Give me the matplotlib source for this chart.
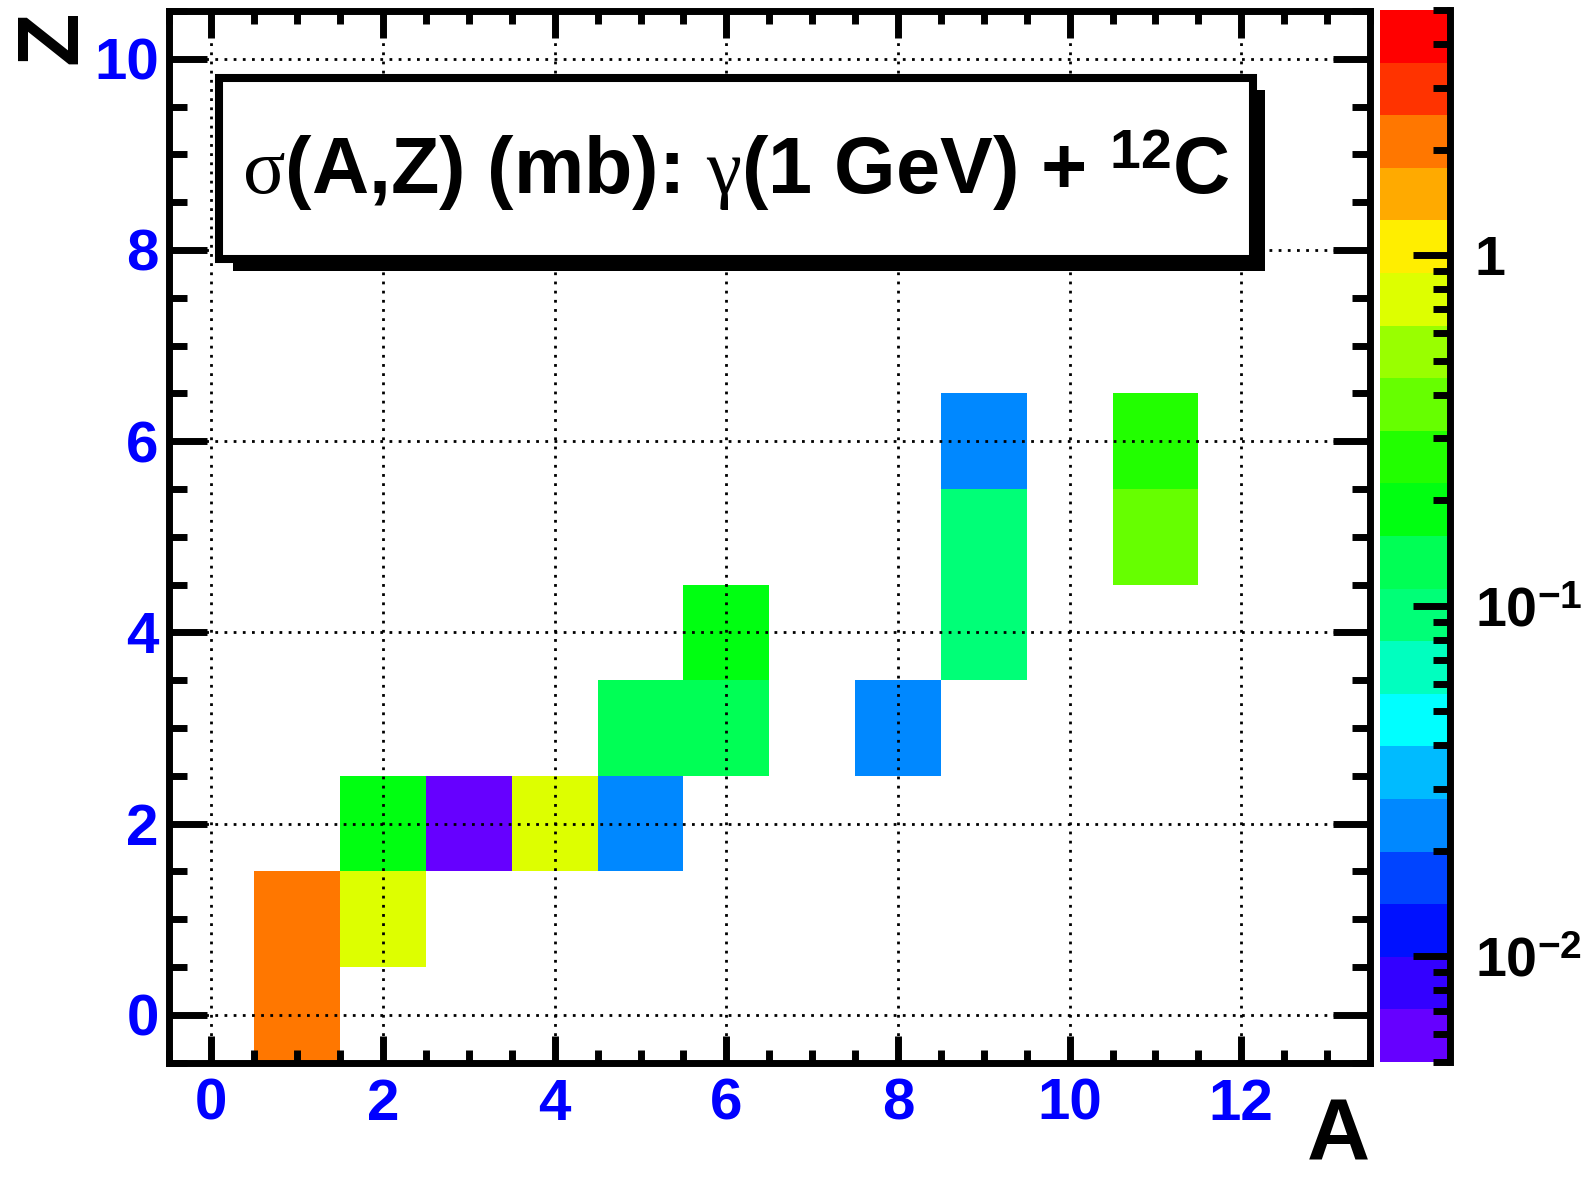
import numpy as np
import matplotlib
matplotlib.use('Agg')
import matplotlib.pyplot as plt
from matplotlib import font_manager
from matplotlib.colors import ListedColormap, LogNorm
from matplotlib.patches import Rectangle
from matplotlib.ticker import MultipleLocator

# fragment mass number A, charge Z and cross section (mb)
mass_a = [1, 1, 2, 2, 3, 4, 5, 5, 6, 6, 8, 9, 9, 9, 11, 11]
charge_z = [0, 1, 1, 2, 2, 2, 2, 3, 3, 4, 3, 4, 5, 6, 5, 6]
sigma_mb = [2.2, 1.9, 0.75, 0.19, 0.006, 0.72, 0.024, 0.135,
            0.13, 0.19, 0.023, 0.095, 0.092, 0.025, 0.38, 0.27]

# ROOT style rainbow palette, 20 contours (bottom -> top)
palette = ['#6600ff', '#3300ff', '#0011ff', '#0044ff', '#0088ff',
           '#00bbff', '#00ffff', '#00ffbf', '#00ff77', '#00ff55',
           '#00ff11', '#22ff00', '#66ff00', '#99ff00', '#ddff00',
           '#ffee00', '#ffaa00', '#ff7700', '#ff3300', '#ff0000']
z_min, z_max = 0.005, 5.0

a_ticks = [0, 2, 4, 6, 8, 10, 12]
z_ticks = [0, 2, 4, 6, 8, 10]
cbar_ticks = [0.01, 0.1, 1]
cbar_labels = ['10$^{-2}$', '10$^{-1}$', '1']
title = r'$\sigma$(A,Z) (mb): $\gamma$(1 GeV) + $^{12}$C'

names = {f.name for f in font_manager.fontManager.ttflist}
narrow = 'Liberation Sans Narrow' in names
title_font = 'Liberation Sans Narrow' if narrow else 'Liberation Sans'
title_size = 69 if narrow else 57

plt.rcParams['font.family'] = ['Liberation Sans', 'DejaVu Sans']
plt.rcParams['font.weight'] = 'bold'
plt.rcParams['mathtext.fontset'] = 'custom'
plt.rcParams['mathtext.rm'] = 'Liberation Sans:bold'
plt.rcParams['mathtext.bf'] = 'Liberation Sans:bold'
plt.rcParams['mathtext.it'] = 'Liberation Serif:regular'

W, H = 1583, 1179
fig = plt.figure(figsize=(W / 100, H / 100), dpi=100)


def fx(px):
    return px / W


def fy(py):
    return 1 - py / H


ax = fig.add_axes([fx(168.5), fy(1062.5), fx(1370) - fx(168.5), fy(11) - fy(1062.5)])

grid = np.full((11, 14), np.nan)
for a, z, s in zip(mass_a, charge_z, sigma_mb):
    grid[z, a] = s
x_edges = np.arange(-0.5, 14.0, 1.0)
y_edges = np.arange(-0.5, 11.0, 1.0)
cmap = ListedColormap(palette)
mesh = ax.pcolormesh(x_edges, y_edges, np.ma.masked_invalid(grid), cmap=cmap,
                     norm=LogNorm(vmin=z_min, vmax=z_max))

ax.set_xlim(-0.5, 13.5)
ax.set_ylim(-0.5, 10.5)
ax.set_xticks(a_ticks)
ax.set_yticks(z_ticks)
ax.xaxis.set_minor_locator(MultipleLocator(0.5))
ax.yaxis.set_minor_locator(MultipleLocator(0.5))
ax.tick_params(axis='x', which='major', length=19.5, width=5, direction='in',
               top=True, bottom=True, pad=11, labelsize=42, labelcolor='blue')
ax.tick_params(axis='x', which='minor', length=9.5, width=5, direction='in',
               top=True, bottom=True)
ax.tick_params(axis='y', which='major', length=27, width=5, direction='in',
               left=True, right=True, pad=7, labelsize=42, labelcolor='blue')
ax.tick_params(axis='y', which='minor', length=13, width=5, direction='in',
               left=True, right=True)
for sp in ax.spines.values():
    sp.set_linewidth(5)
ax.grid(True, which='major', color='black', linestyle=(0, (1, 2.3)), linewidth=2)
ax.set_axisbelow(False)

# palette axis
cax = fig.add_axes([fx(1380), fy(1062), fx(1450) - fx(1380), fy(10) - fy(1062)])
cbar = fig.colorbar(mesh, cax=cax)
cbar.outline.set_visible(False)
cax.spines['right'].set_visible(True)
cax.spines['right'].set_linewidth(5)
minor = [m * d for d in [0.001, 0.01, 0.1, 1] for m in range(2, 10)
         if z_min <= m * d <= z_max]
cbar.set_ticks(cbar_ticks, labels=cbar_labels)
cbar.set_ticks(minor, minor=True)
cax.tick_params(which='major', length=27, width=5, direction='in', pad=18,
                labelsize=40, labelcolor='black')
cax.tick_params(which='minor', length=12, width=5, direction='in')

# title box with shadow
fig.add_artist(Rectangle((fx(233), fy(271)), fx(1265) - fx(233), fy(90) - fy(271),
                         transform=fig.transFigure, facecolor='black',
                         edgecolor='none', zorder=5))
fig.add_artist(Rectangle((fx(219), fy(259)), fx(1253) - fx(219), fy(78) - fy(259),
                         transform=fig.transFigure, facecolor='white',
                         edgecolor='black', linewidth=5.8, zorder=6))
fig.text(fx(736), fy(170), title, ha='center', va='center', zorder=7,
         fontsize=title_size, family=[title_font, 'Liberation Sans'],
         fontweight='bold')

fig.text(fx(1370), fy(1178), 'A', ha='right', va='bottom', fontsize=63)
fig.text(fx(54), fy(11), 'Z', ha='center', va='top', rotation=90, fontsize=63)

fig.savefig('out.png', dpi=100)
